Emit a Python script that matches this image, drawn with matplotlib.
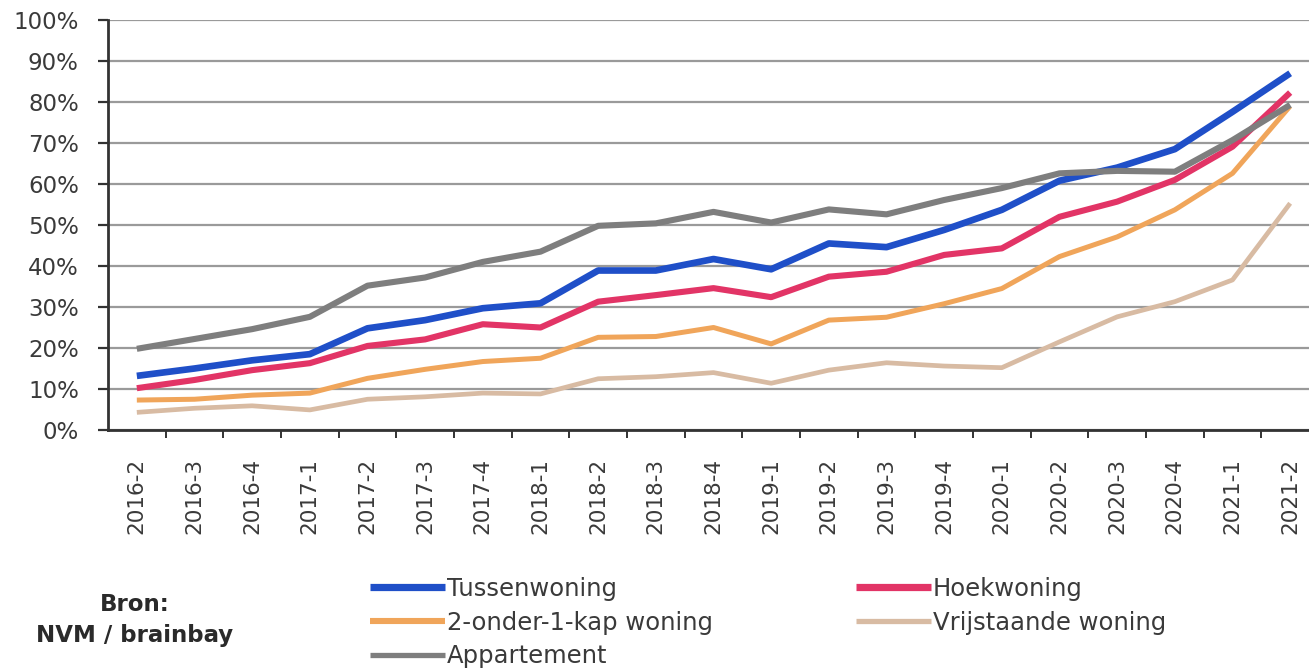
import matplotlib
matplotlib.use("Agg")
import matplotlib.pyplot as plt
from matplotlib.ticker import FixedLocator, NullFormatter

# Quarters
quarters = ["2016-2", "2016-3", "2016-4",
            "2017-1", "2017-2", "2017-3", "2017-4",
            "2018-1", "2018-2", "2018-3", "2018-4",
            "2019-1", "2019-2", "2019-3", "2019-4",
            "2020-1", "2020-2", "2020-3", "2020-4",
            "2021-1", "2021-2"]

# Share of transactions (%) per housing type
tussenwoning = [13.2, 15.0, 17.0, 18.5, 24.8, 26.8, 29.7, 30.9, 38.9, 38.9, 41.7,
                39.2, 45.5, 44.6, 48.8, 53.7, 60.8, 64.0, 68.5, 77.6, 87.0]
hoekwoning = [10.2, 12.2, 14.6, 16.3, 20.5, 22.1, 25.8, 25.0, 31.3, 32.9, 34.6,
              32.4, 37.4, 38.6, 42.7, 44.3, 52.0, 55.7, 61.0, 69.1, 82.3]
twee_onder_een_kap = [7.3, 7.5, 8.5, 9.0, 12.6, 14.8, 16.7, 17.5, 22.6, 22.8, 25.0,
                      21.0, 26.8, 27.5, 30.8, 34.5, 42.3, 47.1, 53.7, 62.6, 79.0]
vrijstaande = [4.3, 5.3, 5.9, 4.9, 7.5, 8.1, 9.0, 8.8, 12.5, 13.0, 14.0,
               11.4, 14.6, 16.4, 15.6, 15.2, 21.5, 27.6, 31.3, 36.6, 55.3]
appartement = [19.8, 22.2, 24.6, 27.6, 35.2, 37.2, 41.0, 43.5, 49.8, 50.4, 53.2,
               50.6, 53.8, 52.6, 56.1, 59.0, 62.6, 63.2, 63.0, 70.7, 79.3]

y_ticks = [0, 10, 20, 30, 40, 50, 60, 70, 80, 90, 100]
y_tick_labels = [f"{v}%" for v in y_ticks]

series = [
    ("Tussenwoning", tussenwoning, "#1F4FC8", 4.8),
    ("Hoekwoning", hoekwoning, "#E23466", 4.4),
    ("2-onder-1-kap woning", twee_onder_een_kap, "#F0A55A", 3.6),
    ("Vrijstaande woning", vrijstaande, "#D8BBA3", 3.4),
    ("Appartement", appartement, "#7E7E7E", 4.4),
]

plt.rcParams["font.family"] = ["DejaVu Sans"]
text_color = "#3A3A3A"

fig = plt.figure(figsize=(13.09, 6.70), dpi=100)
fig.patch.set_facecolor("white")
ax = fig.add_axes([108 / 1309, 240 / 670, 1211 / 1309, 410 / 670])

x = list(range(len(quarters)))
handles = {}
for name, values, color, lw in series:
    (ln,) = ax.plot(x, values, color=color, lw=lw, solid_joinstyle="round",
                    solid_capstyle="butt", label=name, zorder=3)
    handles[name] = ln

ax.set_xlim(-0.5, len(quarters) - 0.5)
ax.set_ylim(0, 100)

# y axis
ax.set_yticks(y_ticks)
ax.set_yticklabels(y_tick_labels, fontsize=16.5, color=text_color)
ax.yaxis.grid(True, color="#9A9A9A", lw=1.6, zorder=1)
ax.tick_params(axis="y", length=7, width=1.6, color="#333333", pad=14)

# x axis: ticks between categories, labels at category centers
ax.xaxis.set_major_locator(FixedLocator([i + 0.5 for i in range(len(quarters) - 1)]))
ax.xaxis.set_major_formatter(NullFormatter())
ax.xaxis.set_minor_locator(FixedLocator(x))
ax.set_xticklabels(quarters, minor=True, rotation=90, fontsize=15.5, color=text_color)
ax.tick_params(axis="x", which="major", length=6, width=1.4, color="#333333")
ax.tick_params(axis="x", which="minor", length=0, pad=20)

for side in ("top", "right"):
    ax.spines[side].set_visible(False)
ax.spines["left"].set_color("#333333")
ax.spines["left"].set_linewidth(2)
ax.spines["bottom"].set_color("#333333")
ax.spines["bottom"].set_linewidth(2)

# Legend
order = ["Tussenwoning", "2-onder-1-kap woning", "Appartement",
         "Hoekwoning", "Vrijstaande woning"]
leg_lw = {"Tussenwoning": 5.2, "Hoekwoning": 5.2, "2-onder-1-kap woning": 4.4,
          "Vrijstaande woning": 3.8, "Appartement": 3.8}
leg = fig.legend([handles[n] for n in order], order, ncol=2, loc="upper left",
                 bbox_to_anchor=(370 / 1309, 1 - 577 / 670), frameon=False,
                 fontsize=17.5, handlelength=3.1, handletextpad=0.05,
                 columnspacing=5.9, labelspacing=0.40, borderaxespad=0, borderpad=0)
for t in leg.get_texts():
    t.set_color(text_color)
for n, h in zip(order, leg.legend_handles):
    h.set_linewidth(leg_lw[n])

fig.text(135 / 1309, 1 - 620 / 670, "Bron:\nNVM / brainbay", ha="center", va="center",
         fontsize=16.5, fontweight="bold", color="#2A2A2A", linespacing=1.45)

fig.savefig("out.png", dpi=100, facecolor="white")
